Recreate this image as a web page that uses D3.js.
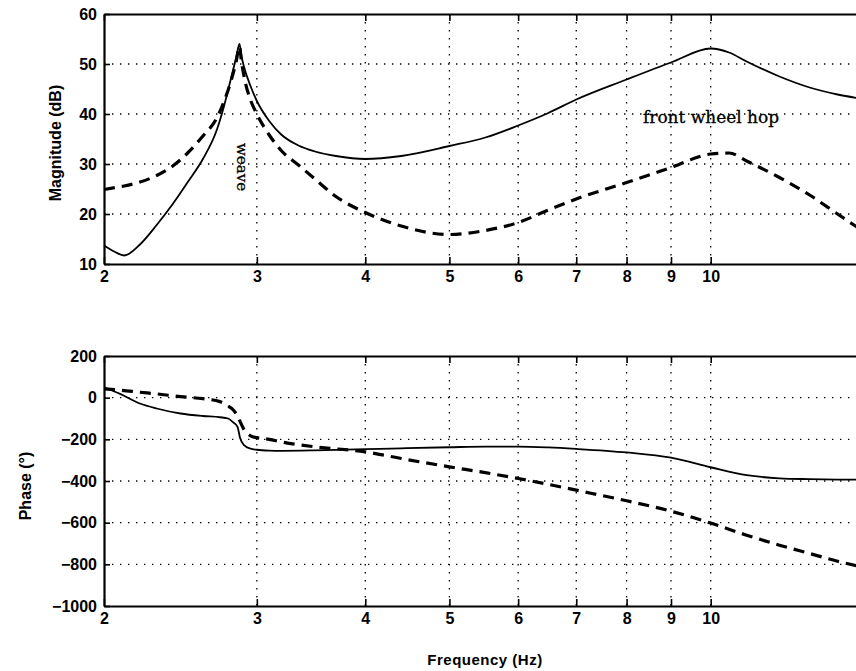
<!DOCTYPE html>
<html>
<head>
<meta charset="utf-8">
<script src="https://cdn.jsdelivr.net/npm/d3@7"></script>
<style>
    body { margin: 0; background: #fff; }
    svg { display: block; }
</style>
</head>
<body>
<div id="divChart"></div>
<script>
    // frequency ticks (Hz)
    var freqTicks = [2, 3, 4, 5, 6, 7, 8, 9, 10];
    var magTicks = [10, 20, 30, 40, 50, 60];
    var phaseTicks = [-1000, -800, -600, -400, -200, 0, 200];

    // magnitude (dB)
    var magFreq = [2.0, 2.06, 2.11, 2.2, 2.3, 2.4, 2.5, 2.6, 2.7, 2.75, 2.8, 2.84, 2.865, 2.88, 2.9, 2.95,
        3.0, 3.1, 3.2, 3.35, 3.5, 3.7, 4.0, 4.4, 5.0, 5.5, 6.0, 6.5, 7.0, 8.0, 9.0, 10.0,
        10.5, 11.0, 12.0, 13.0, 14.0, 15.0];
    var magSolid = [13.7, 12.4, 11.7, 13.9, 17.8, 22.0, 26.5, 31.0, 37.0, 41.6, 47.0, 51.3, 54.0, 51.6, 49.4, 45.6,
        42.6, 38.6, 35.9, 33.7, 32.5, 31.6, 31.0, 31.6, 33.6, 35.3, 37.7, 40.2, 42.9, 46.9, 50.3, 53.1,
        52.3, 50.5, 47.5, 45.3, 43.9, 43.0];
    var magDashed = [24.9, 25.3, 25.6, 26.4, 27.7, 29.6, 32.3, 35.6, 39.3, 42.5, 46.5, 50.5, 53.5, 50.5, 47.5, 42.8,
        40.0, 35.8, 32.7, 29.8, 27.0, 23.5, 20.3, 17.6, 15.9, 16.7, 18.3, 20.8, 23.0, 26.3, 29.3, 32.0,
        32.2, 30.6, 27.3, 23.8, 20.0, 16.5];

    // phase (deg)
    var phaseFreq = [2.0, 2.09, 2.2, 2.3, 2.45, 2.6, 2.72, 2.78, 2.82, 2.85, 2.87, 2.9, 2.95, 3.0, 3.1, 3.2,
        3.5, 4.0, 4.4, 5.0, 5.5, 6.0, 6.5, 7.0, 8.0, 9.0, 10.0, 11.0, 12.0, 13.0, 14.0, 15.0];
    var phaseSolid = [50, 17, -28, -52, -76, -88, -94, -100, -120, -140, -195, -228, -245, -250, -254, -255,
        -253, -247, -243, -238, -235, -235, -239, -246, -263, -288, -334, -372, -387, -391, -393, -394];
    var phaseDashed = [42, 36, 26, 18, 5, -5, -19, -40, -60, -88, -115, -153, -183, -192, -200, -212,
        -236, -260, -292, -332, -360, -388, -416, -444, -495, -545, -602, -660, -708, -748, -785, -815];

    function init()
    {
        var chartPlace = document.getElementById("divChart");
        var width = 856;
        var height = 671;
        var left = 104;
        var font = "'Liberation Sans', Arial, sans-serif";

        var svg = d3.select(chartPlace).append("svg")
            .attr("width", width)
            .attr("height", height);

        // log frequency axis, the right end of the original frame is outside the window
        var scaleX = d3.scaleLog()
            .domain([2, 20])
            .range([left, left + 868]);

        var scaleMag = d3.scaleLinear().domain([10, 60]).range([264, 14]);
        var scalePhase = d3.scaleLinear().domain([-1000, 200]).range([606, 356]);

        function drawPanel(scaleY, yTicks, ySolid, yDashed, xs, yLabel, labelX, labelY)
        {
            var y0 = scaleY.range()[0];
            var y1 = scaleY.range()[1];

            // dotted grid
            var grid = svg.append("g")
                .attr("stroke", "black")
                .attr("stroke-width", 1.3)
                .attr("stroke-dasharray", "1.4,6.6");
            grid.selectAll("line.v")
                .data(freqTicks.slice(1))
                .enter().append("line")
                .attr("x1", function(d){ return scaleX(d); })
                .attr("x2", function(d){ return scaleX(d); })
                .attr("y1", y1)
                .attr("y2", y0);
            grid.selectAll("line.h")
                .data(yTicks.slice(1, -1))
                .enter().append("line")
                .attr("x1", left)
                .attr("x2", width)
                .attr("y1", function(d){ return scaleY(d); })
                .attr("y2", function(d){ return scaleY(d); });

            // curves
            var line = d3.line()
                .x(function(d){ return scaleX(d[0]); })
                .y(function(d){ return scaleY(d[1]); })
                .curve(d3.curveMonotoneX);

            svg.append("path")
                .attr("d", line(d3.zip(xs, ySolid)))
                .style("fill", "none")
                .style("stroke", "black")
                .style("stroke-width", 1.8);

            svg.append("path")
                .attr("d", line(d3.zip(xs, yDashed)))
                .style("fill", "none")
                .style("stroke", "black")
                .style("stroke-width", 3.2)
                .style("stroke-dasharray", "11,7");

            // axes
            var xAxis = d3.axisBottom(scaleX)
                .tickValues(freqTicks)
                .tickFormat(d3.format("d"))
                .tickSizeInner(-7)
                .tickSizeOuter(0)
                .tickPadding(7);
            svg.append("g")
                .attr("transform", "translate(0," + y0 + ")")
                .call(xAxis);

            var xTop = d3.axisTop(scaleX)
                .tickValues(freqTicks)
                .tickFormat("")
                .tickSizeInner(-7)
                .tickSizeOuter(0);
            svg.append("g")
                .attr("transform", "translate(0," + y1 + ")")
                .call(xTop);

            var yAxis = d3.axisLeft(scaleY)
                .tickValues(yTicks)
                .tickFormat(function(d){ return d < 0 ? "\u2212" + Math.abs(d) : d; })
                .tickSizeInner(-6)
                .tickSizeOuter(0)
                .tickPadding(7);
            svg.append("g")
                .attr("transform", "translate(" + left + ",0)")
                .call(yAxis);

            svg.selectAll(".domain").attr("stroke-width", 2.2);
            svg.selectAll(".tick line").attr("stroke-width", 1.6);
            svg.selectAll(".tick text")
                .attr("font-family", font)
                .attr("font-size", 16)
                .attr("font-weight", "bold")
                .attr("fill", "black");

            svg.append("text")
                .attr("transform", "translate(" + labelX + "," + labelY + ") rotate(-90)")
                .attr("text-anchor", "middle")
                .attr("font-family", font)
                .attr("font-size", 16)
                .attr("font-weight", "bold")
                .text(yLabel);
        }

        drawPanel(scaleMag, magTicks, magSolid, magDashed, magFreq, "Magnitude (dB)", 61, 143);
        drawPanel(scalePhase, phaseTicks, phaseSolid, phaseDashed, phaseFreq, "Phase (\u00B0)", 31, 486);

        // annotations
        svg.append("text")
            .attr("transform", "translate(237,167) rotate(90)")
            .attr("text-anchor", "middle")
            .attr("font-family", "'DejaVu Serif', serif")
            .attr("font-size", 15)
            .attr("stroke", "black")
            .attr("stroke-width", 0.3)
            .text("weave");

        svg.append("text")
            .attr("x", 643)
            .attr("y", 123)
            .attr("font-family", "'DejaVu Serif', serif")
            .attr("font-size", 16)
            .attr("stroke", "black")
            .attr("stroke-width", 0.3)
            .attr("textLength", 136)
            .attr("lengthAdjust", "spacingAndGlyphs")
            .text("front wheel hop");

        svg.append("text")
            .attr("x", 485)
            .attr("y", 665)
            .attr("text-anchor", "middle")
            .attr("font-family", font)
            .attr("font-size", 15)
            .attr("font-weight", "bold")
            .attr("letter-spacing", 0.5)
            .text("Frequency (Hz)");
    }

    window.onload = init;
</script>
</body>
</html>
